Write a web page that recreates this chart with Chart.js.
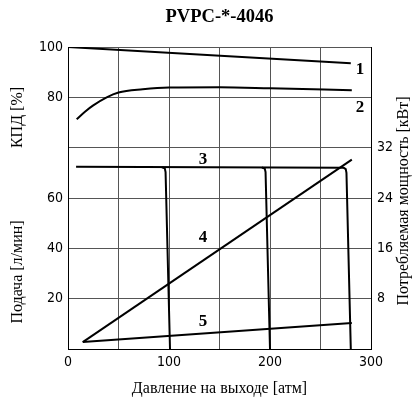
<!DOCTYPE html>
<html><head><meta charset="utf-8">
<script src="https://cdn.jsdelivr.net/npm/chart.js@4"></script>
<style>html,body{margin:0;padding:0;background:#fff}#wrap{width:413px;height:401px}</style>
</head><body><div id="wrap"><canvas id="c" width="413" height="401"></canvas></div>
<script>
const chartTitle = 'PVPC-*-4046';
const xTitle = 'Давление на выходе [атм]';
const effTitle = 'КПД [%]';
const flowTitle = 'Подача [л/мин]';
const powerTitle = 'Потребляемая мощность [кВт]';

const xTickLabels = {0:'0', 100:'100', 200:'200', 300:'300'};
const effTickLabels = {80:'80', 100:'100'};
const flowTickLabels = {20:'20', 40:'40', 60:'60'};
const powerTickLabels = {8:'8', 16:'16', 24:'24', 32:'32'};

// curve 1 (КПД, top panel)
const c1x = [0, 280];
const c1y = [100, 93.5];
// curve 2 (КПД, top panel)
const c2x = [8.6, 16.8, 25, 38.3, 50, 74, 100, 150, 200, 281];
const c2y = [71.3, 74.3, 76.8, 80, 81.9, 83.2, 83.9, 84, 83.6, 82.8];
// curve 3 (подача) main branch and two lower-pressure branches
const c3x = [8, 273, 275, 275.7, 280];
const c3y = [72.4, 72.0, 71.5, 70, 0];
const c3ax = [93, 95.8, 96.6, 101];
const c3ay = [72.2, 71.8, 70.3, 0];
const c3bx = [192, 194.8, 195.6, 200];
const c3by = [72.1, 71.7, 70.3, 0];
// curves 4 and 5 (мощность, right axis)
const c4x = [14.6, 281];
const c4y = [1.1, 30.1];
const c5x = [14.6, 281];
const c5y = [1.1, 4.15];

const curveLabels = ['1', '2', '3', '4', '5'];
const curveLabelX = [289, 289, 133.7, 133.7, 133.7];
const curveLabelY = [90.9, 76, 75.2, 44.4, 10.8];
const curveLabelAxis = ['yTop', 'yTop', 'yBot', 'yBot', 'yBot'];

const serif = "'Liberation Serif', 'DejaVu Serif', serif";
const tickFamily = "'DejaVu Sans Condensed', sans-serif";
const tickFont = {family: tickFamily, size: 14};
const gridColor = '#555';

function pts(xs, ys) { return xs.map((x, i) => ({x: x, y: ys[i]})); }
function line(xs, ys, axis, extra) {
  return Object.assign({data: pts(xs, ys), yAxisID: axis, borderColor: '#000', borderWidth: 2,
    pointRadius: 0, fill: false, tension: 0}, extra || {});
}

const overlay = {
  id: 'overlay',
  afterDatasetsDraw(chart) {
    const ctx = chart.ctx;
    ctx.save();
    ctx.fillStyle = '#000';
    ctx.font = 'bold 17px ' + serif;
    ctx.textAlign = 'center';
    ctx.textBaseline = 'middle';
    curveLabels.forEach((t, i) => {
      const px = chart.scales.x.getPixelForValue(curveLabelX[i]);
      const py = chart.scales[curveLabelAxis[i]].getPixelForValue(curveLabelY[i]);
      ctx.fillText(t, px, py);
    });
    ctx.font = '16px ' + serif;
    const rot = (t, x, y) => { ctx.save(); ctx.translate(x, y); ctx.rotate(-Math.PI / 2); ctx.fillText(t, 0, 0); ctx.restore(); };
    rot(effTitle, 18, 117.5);
    rot(flowTitle, 18, 272);
    rot(powerTitle, 404, 201);
    ctx.restore();
  }
};

function yAxis(pos, stack, weight, min, max, step, labels, width, showGrid) {
  return {
    type: 'linear', position: pos, stack: stack, stackWeight: weight, min: min, max: max,
    ticks: {stepSize: step, autoSkip: false, padding: pos === 'left' ? 5 : 6, font: tickFont, color: '#000',
      display: labels !== null, callback: v => (labels && labels[v]) || ''},
    grid: {display: showGrid, color: gridColor, drawTicks: false, lineWidth: 1},
    border: {display: true, color: '#000', width: 1},
    afterFit(s) { s.width = width; }
  };
}

new Chart(document.getElementById('c'), {
  type: 'line',
  data: {
    datasets: [
      line(c1x, c1y, 'yTop'),
      line(c2x, c2y, 'yTop', {cubicInterpolationMode: 'monotone'}),
      line(c3x, c3y, 'yBot'),
      line(c3ax, c3ay, 'yBot'),
      line(c3bx, c3by, 'yBot'),
      line(c4x, c4y, 'yR'),
      line(c5x, c5y, 'yR')
    ]
  },
  options: {
    responsive: false,
    animation: false,
    layout: {padding: 0},
    plugins: {
      legend: {display: false},
      tooltip: {enabled: false},
      title: {display: true, text: chartTitle, fullSize: false, color: '#000',
        font: {family: serif, size: 18.5, weight: 'bold'}, padding: {top: 6, bottom: 18.8}}
    },
    scales: {
      x: {
        type: 'linear', position: 'bottom', min: 0, max: 300,
        ticks: {stepSize: 50, autoSkip: false, maxRotation: 0, padding: 5, font: tickFont, color: '#000',
          callback: v => xTickLabels[v] || ''},
        grid: {color: gridColor, drawTicks: false, lineWidth: 1},
        border: {color: '#000', width: 1},
        title: {display: true, text: xTitle, color: '#000', font: {family: serif, size: 16}, padding: {top: 0, bottom: 3}},
        afterFit(s) { s.height = 52; }
      },
      yBot: yAxis('left', 'left', 2, 0, 80, 20, flowTickLabels, 68, true),
      yTop: yAxis('left', 'left', 1, 60, 100, 20, effTickLabels, 68, true),
      yRTop: yAxis('right', 'right', 1, 0, 1, 1, null, 42, false),
      yR: yAxis('right', 'right', 2, 0, 32, 8, powerTickLabels, 42, false)
    }
  },
  plugins: [overlay]
});
</script>
</body></html>
